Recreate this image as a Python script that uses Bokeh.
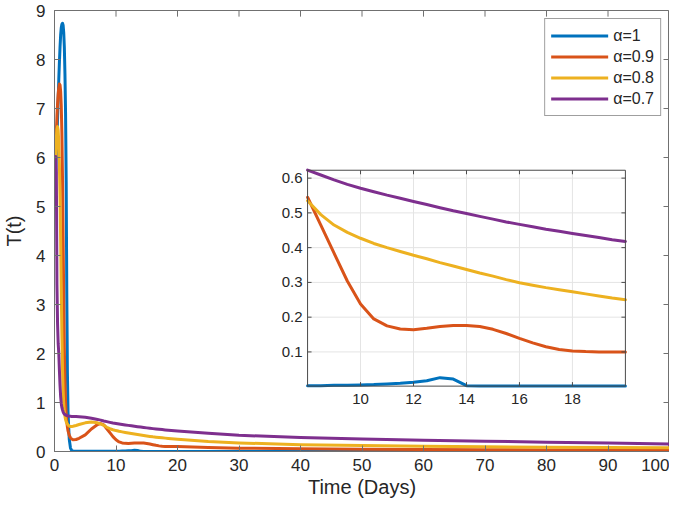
import numpy as np
from bokeh.plotting import figure
from bokeh.models import Range1d, FixedTicker, Legend, LegendItem
from bokeh.embed import file_html
from bokeh.resources import INLINE
from bokeh.core.properties import value

# ---------------- data ----------------
t = [0, 0.1, 0.2, 0.3, 0.4, 0.5, 0.6, 0.7, 0.8, 0.9, 1.0, 1.1, 1.2, 1.3, 1.4, 1.5,
     1.6, 1.7, 1.8, 1.9, 2.0, 2.1, 2.2, 2.4, 2.6, 2.8, 3.0, 3.5, 4, 5, 6, 7,
     7.5, 8, 8.5, 9, 9.5, 10, 10.5, 11, 11.5, 12, 12.5, 13, 13.5, 14, 14.5, 15,
     15.5, 16, 16.5, 17, 17.5, 18, 18.5, 19, 19.5, 20,
     25, 30, 40, 50, 60, 70, 80, 90, 100]

T_a10 = [5.0, 5.35, 5.7, 6.05, 6.4, 6.8, 7.2, 7.6, 7.95, 8.25, 8.5, 8.65, 8.72, 8.74, 8.7, 8.55,
         8.25, 7.7, 6.9, 5.5, 3.2, 1.6, 0.8, 0.25, 0.07, 0.02, 0.01, 0.006, 0.005, 0.004, 0.004, 0.003,
         0.003, 0.003, 0.003, 0.004, 0.004, 0.005, 0.006, 0.008, 0.010, 0.013, 0.017, 0.026, 0.022, 0.003, 0.002, 0.002,
         0.002, 0.002, 0.002, 0.002, 0.002, 0.002, 0.002, 0.002, 0.002, 0.002,
         0.001, 0.001, 0.001, 0.001, 0.001, 0.001, 0.001, 0.001, 0.001]

T_a09 = [5.0, 5.6, 6.1, 6.5, 6.85, 7.1, 7.3, 7.42, 7.5, 7.48, 7.35, 7.05, 6.5, 5.6, 4.4, 3.1,
         2.1, 1.4, 1.0, 0.75, 0.6, 0.5, 0.42, 0.33, 0.28, 0.255, 0.24, 0.245, 0.27, 0.34, 0.46, 0.55,
         0.57, 0.545, 0.465, 0.384, 0.304, 0.238, 0.195, 0.175, 0.166, 0.164, 0.168, 0.173, 0.176, 0.176, 0.173, 0.165,
         0.153, 0.139, 0.126, 0.115, 0.107, 0.103, 0.101, 0.100, 0.100, 0.100,
         0.08, 0.068, 0.055, 0.046, 0.04, 0.036, 0.033, 0.03, 0.028]

T_a08 = [5.0, 5.6, 6.05, 6.4, 6.58, 6.63, 6.55, 6.3, 5.85, 5.2, 4.3, 3.3, 2.4, 1.7, 1.25, 0.98,
         0.82, 0.72, 0.65, 0.61, 0.58, 0.56, 0.54, 0.52, 0.51, 0.51, 0.515, 0.53, 0.55, 0.585, 0.6, 0.585,
         0.565, 0.535, 0.495, 0.465, 0.444, 0.427, 0.412, 0.4, 0.389, 0.378, 0.368, 0.357, 0.347, 0.337, 0.327, 0.318,
         0.308, 0.299, 0.292, 0.285, 0.279, 0.273, 0.267, 0.261, 0.255, 0.25,
         0.205, 0.175, 0.14, 0.12, 0.105, 0.095, 0.088, 0.082, 0.078]

T_a07 = [5.0, 5.85, 6.02, 5.7, 3.4, 2.6, 2.2, 2.0, 1.65, 1.35, 1.12, 0.98, 0.9, 0.85, 0.81, 0.78,
         0.765, 0.755, 0.745, 0.74, 0.735, 0.73, 0.725, 0.72, 0.718, 0.716, 0.715, 0.713, 0.71, 0.70, 0.68, 0.655,
         0.64, 0.623, 0.609, 0.595, 0.582, 0.571, 0.561, 0.551, 0.542, 0.533, 0.524, 0.515, 0.506, 0.498, 0.49, 0.482,
         0.474, 0.467, 0.46, 0.453, 0.447, 0.441, 0.435, 0.429, 0.423, 0.418,
         0.37, 0.33, 0.285, 0.255, 0.23, 0.21, 0.19, 0.172, 0.155]

series_labels = ["α=1", "α=0.9", "α=0.8", "α=0.7"]
series_values = [T_a10, T_a09, T_a08, T_a07]

x_ticks = [0, 10, 20, 30, 40, 50, 60, 70, 80, 90, 100]
y_ticks = [0, 1, 2, 3, 4, 5, 6, 7, 8, 9]
inset_x_ticks = [10, 12, 14, 16, 18]
inset_x_labels = ["10", "12", "14", "16", "18"]
inset_y_ticks = [0.1, 0.2, 0.3, 0.4, 0.5, 0.6]
inset_y_labels = ["0.1", "0.2", "0.3", "0.4", "0.5", "0.6"]

# ---------------- styles ----------------
COLORS = ["#0072BD", "#D95319", "#EDB120", "#7E2F8E"]
FONT = "Liberation Sans"
AX = "#707070"
TXT = "#262626"
LW = 3

p = figure(width=669, height=500, output_backend="svg", toolbar_location=None,
           x_range=Range1d(0, 100), y_range=Range1d(0, 9),
           min_border_left=44, min_border_right=0, min_border_top=10, min_border_bottom=44)
p.xgrid.visible = False
p.ygrid.visible = False
p.outline_line_color = AX
p.outline_line_width = 1
p.background_fill_color = "white"
p.border_fill_color = "white"

p.xaxis.ticker = FixedTicker(ticks=x_ticks)
p.yaxis.ticker = FixedTicker(ticks=y_ticks)
p.xaxis.axis_label = "Time (Days)"
p.yaxis.axis_label = "T(t)"
for ax in (p.xaxis[0], p.yaxis[0]):
    ax.axis_line_color = AX
    ax.major_tick_line_color = AX
    ax.major_tick_in = 6
    ax.major_tick_out = 0
    ax.minor_tick_line_color = None
    ax.major_label_text_font = FONT
    ax.major_label_text_font_size = "17px"
    ax.major_label_text_color = TXT
    ax.axis_label_text_font = FONT
    ax.axis_label_text_font_size = "20px"
    ax.axis_label_text_font_style = "normal"
    ax.axis_label_text_color = TXT
p.xaxis.major_label_standoff = 7
p.yaxis.major_label_standoff = 9
p.xaxis.axis_label_standoff = 2
p.yaxis.axis_label_standoff = 8

# top / right inward ticks (box on)
tick_dy = 6 / 48.0
tick_dx = 6 / 6.15
p.segment(x0=x_ticks, y0=[9] * len(x_ticks), x1=x_ticks, y1=[9 - tick_dy] * len(x_ticks),
          line_color=AX, line_width=1)
p.segment(x0=[100] * len(y_ticks), y0=y_ticks, x1=[100 - tick_dx] * len(y_ticks), y1=y_ticks,
          line_color=AX, line_width=1)

renderers = []
for vals, col in zip(series_values, COLORS):
    r = p.line(t, vals, line_color=col, line_width=LW, line_join="round", line_cap="round")
    renderers.append(r)

legend = Legend(items=[LegendItem(label=lab, renderers=[r]) for lab, r in zip(series_labels, renderers)],
                location="top_right", margin=8, padding=6, spacing=0,
                glyph_width=57, glyph_height=21, label_height=21, label_standoff=5,
                label_text_font=FONT, label_text_font_size="16px", label_text_color=TXT,
                border_line_color="#404040", border_line_width=1,
                background_fill_color="white", background_fill_alpha=1.0)
p.add_layout(legend)

# ---------------- inset ----------------
IX0, IX1 = 8, 20
IY0, IY1 = 0.0016, 0.6227
sub = p.subplot(x_source=Range1d(IX0, IX1), y_source=Range1d(IY0, IY1),
                x_target=Range1d(41.15, 92.83), y_target=Range1d(1.334, 5.74))

sub.quad(left=[IX0], right=[IX1], bottom=[IY0], top=[IY1], fill_color="white", line_color=None)
GRID = "#e4e4e4"
sub.segment(x0=inset_x_ticks, y0=[IY0] * 5, x1=inset_x_ticks, y1=[IY1] * 5, line_color=GRID, line_width=1)
sub.segment(x0=[IX0] * 6, y0=inset_y_ticks, x1=[IX1] * 6, y1=inset_y_ticks, line_color=GRID, line_width=1)

t_arr = np.array(t)
mask = (t_arr >= IX0) & (t_arr <= IX1)
for vals, col in zip(series_values, COLORS):
    sub.line(t_arr[mask], np.array(vals)[mask], line_color=col, line_width=LW,
             line_join="round", line_cap="round")

IBOX = "#4a4a4a"
sub.quad(left=[IX0], right=[IX1], bottom=[IY0], top=[IY1], fill_color=None, line_color=IBOX, line_width=1)
idx = 4 * (IX1 - IX0) / 319.4
idy = 4 * (IY1 - IY0) / 215.0
sub.segment(x0=inset_x_ticks, y0=[IY0] * 5, x1=inset_x_ticks, y1=[IY0 + idy] * 5, line_color=IBOX)
sub.segment(x0=inset_x_ticks, y0=[IY1] * 5, x1=inset_x_ticks, y1=[IY1 - idy] * 5, line_color=IBOX)
sub.segment(x0=[IX0] * 6, y0=inset_y_ticks, x1=[IX0 + idx] * 6, y1=inset_y_ticks, line_color=IBOX)
sub.segment(x0=[IX1] * 6, y0=inset_y_ticks, x1=[IX1 - idx] * 6, y1=inset_y_ticks, line_color=IBOX)

sub.text(x=[IX0] * 6, y=inset_y_ticks, text=inset_y_labels, x_offset=-5,
         text_align="right", text_baseline="middle", text_font=value(FONT),
         text_font_size="15px", text_color=TXT)
sub.text(x=inset_x_ticks, y=[IY0] * 5, text=inset_x_labels, y_offset=8,
         text_align="center", text_baseline="top", text_font=value(FONT),
         text_font_size="15px", text_color=TXT)

open("out.html", "w").write(file_html(p, INLINE))
